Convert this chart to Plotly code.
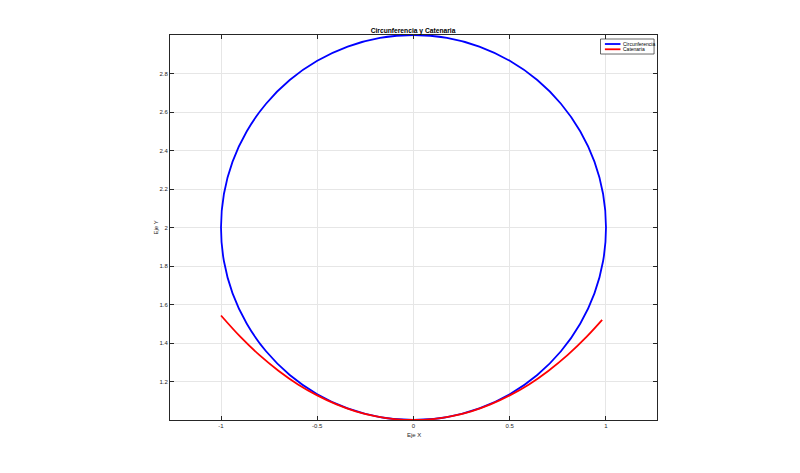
import plotly.graph_objects as go

# Circumference points (every 10 degrees)
circ_x = [1.0, 0.985, 0.940, 0.866, 0.766, 0.643, 0.5, 0.342, 0.174, 0.0,
          -0.174, -0.342, -0.5, -0.643, -0.766, -0.866, -0.940, -0.985, -1.0,
          -0.985, -0.940, -0.866, -0.766, -0.643, -0.5, -0.342, -0.174, 0.0,
          0.174, 0.342, 0.5, 0.643, 0.766, 0.866, 0.940, 0.985, 1.0]
circ_y = [2.0, 2.174, 2.342, 2.5, 2.643, 2.766, 2.866, 2.940, 2.985, 3.0,
          2.985, 2.940, 2.866, 2.766, 2.643, 2.5, 2.342, 2.174, 2.0,
          1.826, 1.658, 1.5, 1.357, 1.234, 1.134, 1.060, 1.015, 1.0,
          1.015, 1.060, 1.134, 1.234, 1.357, 1.5, 1.658, 1.826, 2.0]

# Catenary points
cat_x = [-1.0, -0.9, -0.8, -0.7, -0.6, -0.5, -0.4, -0.3, -0.2, -0.1, 0.0,
         0.1, 0.2, 0.3, 0.4, 0.5, 0.6, 0.7, 0.8, 0.9, 0.98]
cat_y = [1.543, 1.433, 1.337, 1.255, 1.185, 1.128, 1.081, 1.045, 1.020, 1.005, 1.0,
         1.005, 1.020, 1.045, 1.081, 1.128, 1.185, 1.255, 1.337, 1.433, 1.520]

series_names = ["Circunferencia", "Catenaria"]
series_colors = ["#0000FF", "#FF0000"]

x_ticks = [-1, -0.5, 0, 0.5, 1]
x_tick_labels = ["-1", "-0.5", "0", "0.5", "1"]
y_ticks = [1.2, 1.4, 1.6, 1.8, 2.0, 2.2, 2.4, 2.6, 2.8]
y_tick_labels = ["1.2", "1.4", "1.6", "1.8", "2", "2.2", "2.4", "2.6", "2.8"]

FONT = "Liberation Sans, Arial, Helvetica, sans-serif"

fig = go.Figure()
fig.add_trace(go.Scatter(x=circ_x, y=circ_y, mode="lines", name=series_names[0],
                         showlegend=False,
                         line=dict(color=series_colors[0], width=1.8, shape="spline", smoothing=1.0)))
fig.add_trace(go.Scatter(x=cat_x, y=cat_y, mode="lines", name=series_names[1],
                         showlegend=False,
                         line=dict(color=series_colors[1], width=1.8, shape="spline", smoothing=1.0)))

axis_common = dict(
    showline=True, linecolor="#262626", linewidth=1, mirror="ticks",
    ticks="inside", ticklen=4, tickcolor="#262626",
    showgrid=True, gridcolor="#E6E6E6", gridwidth=1,
    zeroline=False,
    tickfont=dict(family=FONT, size=6, color="#262626"),
)

# Compact MATLAB-style legend built from shapes and annotations
shapes = [dict(type="rect", xref="paper", yref="paper", x0=0.884, x1=0.994,
               y0=0.9506, y1=0.9896, line=dict(color="#262626", width=0.7),
               fillcolor="white", layer="above")]
annotations = []
legend_y = [0.9766, 0.9629]
for name, color, ly in zip(series_names, series_colors, legend_y):
    shapes.append(dict(type="line", xref="paper", yref="paper", x0=0.893, x1=0.925,
                       y0=ly, y1=ly, line=dict(color=color, width=1.8), layer="above"))
    annotations.append(dict(text=name, xref="paper", yref="paper", x=0.927, y=ly,
                            showarrow=False, xanchor="left", yanchor="middle",
                            font=dict(family=FONT, size=5, color="black")))

annotations += [
    dict(text="Eje X", xref="paper", yref="paper", x=0.5, y=0, yshift=-15,
         showarrow=False, xanchor="center", yanchor="middle",
         font=dict(family=FONT, size=6, color="#262626")),
    dict(text="Eje Y", xref="paper", yref="paper", x=0, y=0.5, xshift=-15,
         showarrow=False, textangle=-90, xanchor="center", yanchor="middle",
         font=dict(family=FONT, size=6, color="#262626")),
]

fig.update_layout(
    width=800, height=473,
    margin=dict(l=162, r=151, t=27, b=61),
    paper_bgcolor="white", plot_bgcolor="white",
    font=dict(family=FONT, size=6, color="#262626"),
    title=dict(text="<b>Circunferencia y Catenaria</b>", x=405/800, xanchor="center",
               y=1 - 23/473, yanchor="middle", yref="container",
               font=dict(family=FONT, size=6.7, color="black")),
    xaxis=dict(range=[-1.265, 1.265], tickvals=x_ticks, ticktext=x_tick_labels, **axis_common),
    yaxis=dict(range=[1.0, 3.0], tickvals=y_ticks, ticktext=y_tick_labels, **axis_common),
    showlegend=False,
    shapes=shapes,
    annotations=annotations,
)

fig.write_html("out.html")
